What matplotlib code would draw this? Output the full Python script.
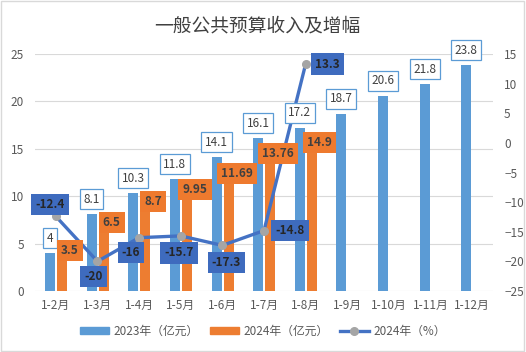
import matplotlib.pyplot as plt
import matplotlib.patches as mpatches
from matplotlib.lines import Line2D
import numpy as np

plt.rcParams['font.family'] = ['Noto Sans CJK SC', 'DejaVu Sans']

# 数据
months = ['1-2月', '1-3月', '1-4月', '1-5月', '1-6月', '1-7月', '1-8月',
          '1-9月', '1-10月', '1-11月', '1-12月']
rev_2023 = [4, 8.1, 10.3, 11.8, 14.1, 16.1, 17.2, 18.7, 20.6, 21.8, 23.8]
rev_2024 = [3.5, 6.5, 8.7, 9.95, 11.69, 13.76, 14.9]
rev_2024_labels = ['3.5', '6.5', '8.7', '9.95', '11.69', '13.76', '14.9']
growth_2024 = [-12.4, -20, -16, -15.7, -17.3, -14.8, 13.3]

# 百分比标签的偏移（像素）
pct_offsets = [(-6, 12), (-4, -15), (-8, -15), (-2, -17), (4, -17), (26, 0), (22, 0)]

blue = '#5B9BD5'
orange = '#ED7D31'
line_c = '#4472C4'
txt = '#595959'

fig = plt.figure(figsize=(5.26, 3.52), dpi=100)
ax = fig.add_axes([35 / 526, 1 - 291 / 352, 458 / 526, 237 / 352])
ax2 = ax.twinx()

x = np.arange(len(months))
w = 0.24
ax.bar(x - 0.14, rev_2023, width=w, color=blue, zorder=2)
x24 = x[:len(rev_2024)]
ax.bar(x24 + 0.15, rev_2024, width=w, color=orange, zorder=2)

ax.set_ylim(0, 25)
ax.set_yticks(range(0, 26, 5))
ax.set_xlim(-0.5, len(months) - 0.5)
ax.set_xticks(x)
ax.set_xticklabels(months)
ax.grid(axis='y', color='#D9D9D9', linewidth=0.8, zorder=0)
ax.set_axisbelow(True)

ax2.plot(x24, growth_2024, color=line_c, linewidth=2.4, marker='o',
         markersize=5.5, markerfacecolor='#A5A5A5', markeredgecolor='#A5A5A5', zorder=3)
ax2.set_ylim(-25, 15)
ax2.set_yticks(range(-25, 16, 5))

for a in (ax, ax2):
    for s in a.spines.values():
        s.set_visible(False)
    a.tick_params(length=0, colors=txt, labelsize=8.5)
ax.tick_params(axis='x', pad=6)
ax.tick_params(axis='y', pad=8)
ax2.tick_params(axis='y', pad=8)

px = 0.72  # 像素 -> 点

# 2023 数据标签（画在 ax2 上，压在折线上面）
for xi, v in zip(x, rev_2023):
    ax2.annotate(f'{v:g}', (xi - 0.14, v), xycoords=ax.transData,
                 xytext=(0, 15 * px), textcoords='offset points',
                 ha='center', va='center', fontsize=8.5, color='#404040', zorder=6,
                 bbox=dict(boxstyle='square,pad=0.3', fc='white', ec=blue, lw=0.9))

# 2024 数据标签
for xi, v, lab in zip(x24, rev_2024, rev_2024_labels):
    ax2.annotate(lab, (xi + 0.15, v), xycoords=ax.transData,
                 xytext=(8 * px, 7 * px), textcoords='offset points',
                 ha='center', va='center', fontsize=8.5, color='#404040', fontweight='bold',
                 zorder=6, bbox=dict(boxstyle='square,pad=0.35', fc='#EE7A2E', ec='none'))

# 增幅标签
for xi, v, (dx, dy) in zip(x24, growth_2024, pct_offsets):
    ax2.annotate(f'{v:g}', (xi, v), xytext=(dx * px, dy * px), textcoords='offset points',
                 ha='center', va='center', fontsize=8.5, color='#262626', fontweight='bold',
                 zorder=7, bbox=dict(boxstyle='square,pad=0.35', fc='#3E6BBE', ec='none'))

fig.text(0.49, 1 - 26 / 352, '一般公共预算收入及增幅', ha='center', va='center',
         fontsize=13.5, color='#404040')

handles = [mpatches.Patch(color=blue, label='2023年（亿元）'),
           mpatches.Patch(color=orange, label='2024年（亿元）'),
           Line2D([0], [0], color=line_c, linewidth=2.4, marker='o', markersize=5.5,
                  markerfacecolor='#A5A5A5', markeredgecolor='#A5A5A5', label='2024年（%）')]
fig.legend(handles=handles, loc='center', bbox_to_anchor=(0.5, 1 - 331 / 352), ncol=3,
           frameon=False, fontsize=8.5, labelcolor=txt, handlelength=2.4,
           handleheight=0.6, columnspacing=1.0, handletextpad=0.4)

fig.add_artist(mpatches.Rectangle((0.002, 0.003), 0.995, 0.994, transform=fig.transFigure,
                                  fill=False, ec='#D9D9D9', lw=1))

fig.savefig('out.png', dpi=100)
